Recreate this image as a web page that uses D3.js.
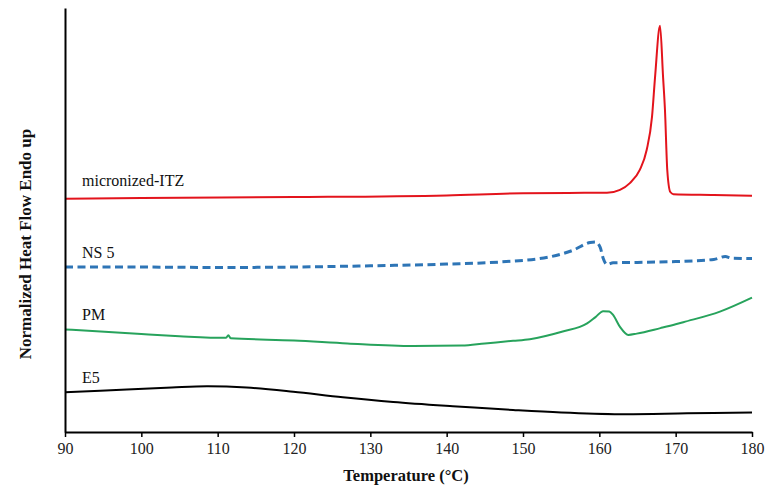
<!DOCTYPE html>
<html>
<head>
<meta charset="utf-8">
<script src="https://cdn.jsdelivr.net/npm/d3@7"></script>
<style>
  html, body { margin: 0; padding: 0; background: #fff; }
  svg { display: block; }
  text { font-family: "Liberation Serif", "Times New Roman", serif; }
</style>
</head>
<body>
<script>
// ---- Data (temperature °C, normalized heat flow, arbitrary offset units) ----
const xTicks = [90, 100, 110, 120, 130, 140, 150, 160, 170, 180];
const seriesNames = ["micronized-ITZ", "NS 5", "PM", "E5"];

const itzT = [90, 100, 120, 140, 150, 158, 161.0, 162.7, 164.0, 165.3, 166.2, 166.9, 167.3, 167.95, 168.35, 168.6, 168.9, 169.3, 169.7, 175, 180];
const itzV = [55.0, 55.2, 55.4, 55.8, 56.3, 56.4, 56.4, 57.1, 58.7, 61.8, 66.5, 74.3, 83.7, 95.8, 83.7, 75.9, 61.8, 56.6, 56.1, 55.9, 55.7];

const ns5T = [90, 100, 110, 120, 130, 140, 147, 153.5, 156.6, 158.8, 159.5, 160.1, 160.5, 161.0, 161.8, 165, 170, 175, 176.5, 177.3, 180];
const ns5V = [38.9, 38.9, 38.8, 38.9, 39.2, 39.6, 40.1, 41.3, 42.9, 44.7, 44.8, 43.6, 41.0, 39.5, 39.9, 40.0, 40.2, 40.7, 41.4, 41.0, 40.9];

const pmT = [90, 100, 105, 111.1, 111.4, 111.7, 120, 127, 135.6, 142, 145, 148.7, 150.9, 155.2, 158.4, 159.5, 160.5, 161.3, 161.8, 162.7, 163.8, 164.9, 168, 170, 171, 175.8, 180];
const pmV = [24.2, 23.1, 22.6, 22.2, 22.8, 22.1, 21.6, 20.9, 20.3, 20.4, 20.9, 21.5, 21.9, 23.7, 25.6, 27.1, 28.5, 28.4, 27.6, 24.8, 22.9, 23.2, 24.5, 25.4, 25.9, 28.4, 31.7];

const e5T = [90, 98.1, 104, 108.6, 113.8, 119.9, 126.4, 133, 140.8, 148.7, 155, 162.7, 171.5, 180];
const e5V = [9.4, 10.0, 10.5, 10.8, 10.5, 9.5, 8.2, 7.1, 6.1, 5.2, 4.6, 4.2, 4.4, 4.6];

// ---- Layout ----
const W = 778, H = 487;
const margin = { left: 65, right: 26, top: 8, bottom: 55 };
const svg = d3.select("body").append("svg").attr("width", W).attr("height", H);

const x = d3.scaleLinear().domain([90, 180]).range([margin.left, W - margin.right]);
const y = d3.scaleLinear().domain([0, 100]).range([H - margin.bottom, margin.top]);

const series = [
  { name: seriesNames[0], T: itzT, V: itzV, color: "#e3141c", width: 2, dash: null, curve: d3.curveMonotoneX },
  { name: seriesNames[1], T: ns5T, V: ns5V, color: "#2e75b6", width: 3, dash: "8,4.5", curve: d3.curveMonotoneX },
  { name: seriesNames[2], T: pmT, V: pmV, color: "#27a35c", width: 2, dash: null, curve: d3.curveMonotoneX },
  { name: seriesNames[3], T: e5T, V: e5V, color: "#000000", width: 2, dash: null, curve: d3.curveCatmullRom.alpha(0.5) }
];

series.forEach(s => {
  const pts = s.T.map((t, i) => [t, s.V[i]]);
  const line = d3.line().x(d => x(d[0])).y(d => y(d[1])).curve(s.curve);
  const p = svg.append("path")
    .datum(pts)
    .attr("d", line)
    .attr("fill", "none")
    .attr("stroke", s.color)
    .attr("stroke-width", s.width)
    .attr("stroke-linejoin", "round");
  if (s.dash) p.attr("stroke-dasharray", s.dash);
});

// series labels
const labelY = [186, 258, 320, 383];
series.forEach((s, i) => {
  svg.append("text")
    .attr("x", 82)
    .attr("y", labelY[i])
    .attr("font-size", 16)
    .attr("fill", "#111")
    .text(s.name);
});

// x axis
const xAxis = d3.axisBottom(x).tickValues(xTicks).tickSize(5).tickSizeOuter(0).tickPadding(6);
const gx = svg.append("g").attr("transform", `translate(0,${H - margin.bottom})`).call(xAxis);
gx.select(".domain").attr("stroke", "#000").attr("stroke-width", 2);
gx.selectAll(".tick line").attr("stroke", "#000").attr("stroke-width", 1.5);
gx.selectAll(".tick text")
  .attr("font-family", "'Liberation Serif', 'Times New Roman', serif")
  .attr("font-size", 16)
  .attr("fill", "#222");

// y axis (line only)
const yAxis = d3.axisLeft(y).tickValues([]).tickSizeOuter(0);
const gy = svg.append("g").attr("transform", `translate(${margin.left},0)`).call(yAxis);
gy.select(".domain").attr("stroke", "#000").attr("stroke-width", 2);

// axis titles
svg.append("text")
  .attr("x", 406)
  .attr("y", 481)
  .attr("text-anchor", "middle")
  .attr("font-size", 16.5)
  .attr("font-weight", "bold")
  .attr("fill", "#111")
  .text("Temperature (°C)");

svg.append("text")
  .attr("transform", "translate(31,244) rotate(-90)")
  .attr("text-anchor", "middle")
  .attr("font-size", 17)
  .attr("font-weight", "bold")
  .attr("fill", "#111")
  .text("Normalized Heat Flow Endo up");
</script>
</body>
</html>
